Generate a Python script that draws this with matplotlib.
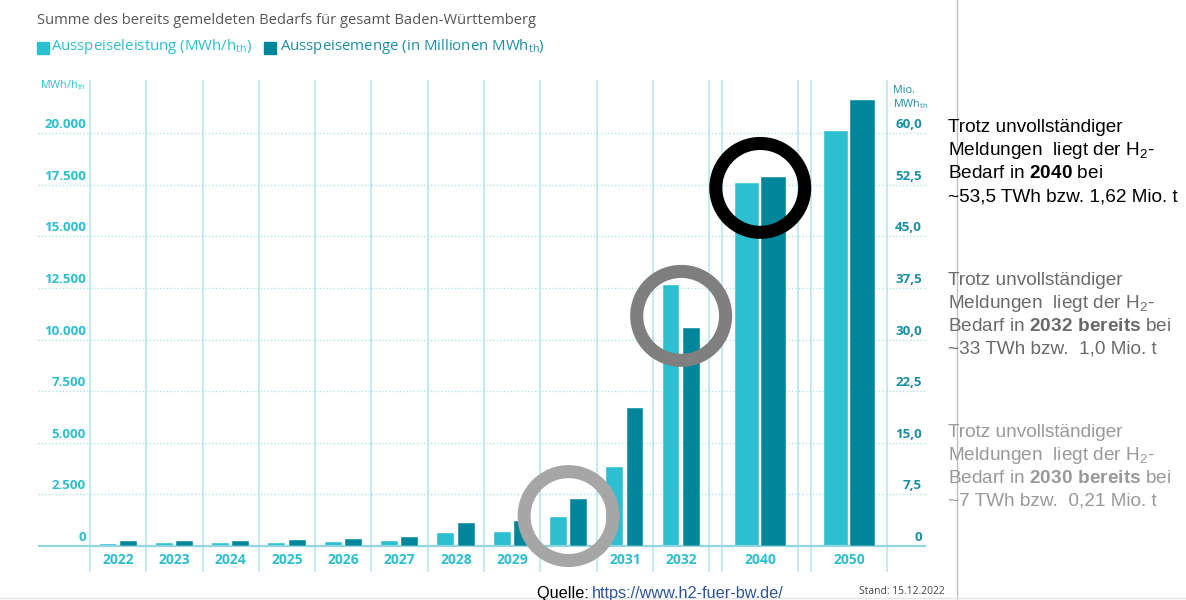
import matplotlib
matplotlib.use("Agg")
import matplotlib.pyplot as plt
from matplotlib.patches import Rectangle
from matplotlib.lines import Line2D
import numpy as np

# data
years = ['2022', '2023', '2024', '2025', '2026', '2027', '2028', '2029',
         '2030', '2031', '2032', '2040', '2050']
leistung = [115, 130, 150, 165, 215, 230, 610, 660, 1400, 3850, 12650, 17580, 20100]   # MWh/h_th
menge = [0.69, 0.74, 0.79, 0.84, 1.09, 1.28, 3.35, 3.65, 6.86, 20.0, 31.7, 53.6, 64.8]  # Mio. MWh_th
left_ticks = [0, 2500, 5000, 7500, 10000, 12500, 15000, 17500, 20000]
left_labels = ['0', '2.500', '5.000', '7.500', '10.000', '12.500', '15.000', '17.500', '20.000']
right_labels = ['0', '7,5', '15,0', '22,5', '30,0', '37,5', '45,0', '52,5', '60,0']
highlight_years = ['2030', '2032', '2040']
highlight_y = [1450, 11150, 17350]
highlight_colors = ['#a6a6a6', '#7f7f7f', '#000000']

LIGHT = '#2bbfd0'
DARK = '#00869b'
GRID = '#b3e5ed'

plt.rcParams['mathtext.default'] = 'regular'
plt.rcParams['mathtext.fontset'] = 'custom'
plt.rcParams['mathtext.bf'] = 'Liberation Sans:bold'

W, H = 1186, 600
fig = plt.figure(figsize=(W / 100, H / 100), dpi=100)


def fx(px):
    return px / W


def fy(py):
    return 1 - py / H


# axis geometry in pixels
zero_px, step_px = 546, 51.6
ax_left, ax_right, ax_top, ax_bot = 38, 926, 80, 575
ax = fig.add_axes([fx(ax_left), fy(ax_bot), fx(ax_right) - fx(ax_left), fy(ax_top) - fy(ax_bot)])
ymin = -(ax_bot - zero_px) / step_px * 2500
ymax = (zero_px - ax_top) / step_px * 2500
ax.set_ylim(ymin, ymax)
ax2 = ax.twinx()
ratio = 60 / 20000
ax2.set_ylim(ymin * ratio, ymax * ratio)

# column layout (unit = one short column)
col_px = 56.3
n_short = 11
wide_w, gap = 1.35, 0.23
centers = list(np.arange(n_short))
edges = list(np.arange(n_short + 1) - 0.5)
x0 = edges[-1]
for i in range(len(years) - n_short):
    a = x0 + gap
    b = a + wide_w
    edges += [a, b]
    centers.append((a + b) / 2)
    x0 = b
ax.set_xlim(-0.5 - (90 - ax_left) / col_px, -0.5 + (ax_right - 90) / col_px)
ax2.set_xlim(ax.get_xlim())

widths = np.array([0.30 if i < n_short else 0.43 for i in range(len(years))])
offs = np.array([0.18 if i < n_short else 0.235 for i in range(len(years))])
centers = np.array(centers)

# grid
bottom_line = -(572 - zero_px) / step_px * 2500
ax.vlines(edges, bottom_line, ymax, color=GRID, lw=1.1, zorder=1)
for t in left_ticks[1:]:
    ax.axhline(t, color='#b0e2ea', lw=1.0, ls=(0, (1, 1.5)), zorder=1)
ax.axhline(0, color='#8fd6e2', lw=1.6, zorder=4)

# bars
ax.bar(centers - offs, leistung, width=widths, color=LIGHT, edgecolor='white', lw=0.3, zorder=3)
ax2.bar(centers + offs, menge, width=widths, color=DARK, edgecolor='white', lw=0.3, zorder=3)

# tick labels
for t, lab in zip(left_ticks, left_labels):
    ax.annotate(lab, xy=((86 - ax_left) / (ax_right - ax_left), t),
                xycoords=('axes fraction', 'data'), xytext=(0, 2), textcoords='offset pixels',
                ha='right', va='bottom', color=LIGHT, fontsize=9.6, fontweight='bold',
                family='Open Sans')
for t, lab in zip(left_ticks, right_labels):
    ax.annotate(lab, xy=((922 - ax_left) / (ax_right - ax_left), t),
                xycoords=('axes fraction', 'data'), xytext=(0, 2), textcoords='offset pixels',
                ha='right', va='bottom', color='#1a8ea4', fontsize=9.6, fontweight='bold',
                family='Open Sans')
for c, y in zip(centers, years):
    ax.annotate(y, xy=(c, 0), xycoords='data', xytext=(0, -14), textcoords='offset pixels',
                ha='center', va='center', color=LIGHT, fontsize=10, fontweight='bold',
                family='Open Sans')

# highlight rings
for yr, yv, col in zip(highlight_years, highlight_y, highlight_colors):
    c = centers[years.index(yr)]
    ax2.scatter([c], [yv * ratio], s=64 ** 2, facecolors='none', edgecolors=col,
                linewidths=9.4, zorder=10, clip_on=False)

ax.set_axis_off()
ax2.set_axis_off()

# title and legend
fig.text(fx(37), fy(20), 'Summe des bereits gemeldeten Bedarfs für gesamt Baden-Württemberg',
         ha='left', va='center', fontsize=10.6, color='#555555', family='Open Sans')
fig.add_artist(Rectangle((fx(37), fy(54)), fx(12), 12 / H, color=LIGHT, transform=fig.transFigure))
fig.text(fx(51), fy(47), 'Ausspeiseleistung (MWh/h$_{th}$)', ha='left', va='center',
         fontsize=10.8, color=LIGHT, family='Open Sans')
fig.add_artist(Rectangle((fx(264), fy(54)), fx(12), 12 / H, color=DARK, transform=fig.transFigure))
fig.text(fx(280), fy(47), 'Ausspeisemenge (in Millionen MWh$_{th}$)', ha='left', va='center',
         fontsize=10.8, color='#1a8ea4', family='Open Sans')

# unit labels
fig.text(fx(40), fy(85), 'MWh/h$_{th}$', ha='left', va='center', fontsize=7.8, color=LIGHT,
         family='Open Sans')
fig.text(fx(893), fy(91), 'Mio.', ha='left', va='center', fontsize=7.8, color='#1a8ea4',
         family='Open Sans')
fig.text(fx(893), fy(104), 'MWh$_{th}$', ha='left', va='center', fontsize=7.8, color='#1a8ea4',
         family='Open Sans')

# source + date
fig.text(fx(537), fy(598), 'Quelle: ', ha='left', va='baseline', fontsize=11.7,
         color='black', family='Liberation Sans')
fig.text(fx(592), fy(598), 'https://www.h2-fuer-bw.de/', ha='left', va='baseline', fontsize=11.7,
         color='#2f5597', family='Liberation Sans')
fig.text(fx(945), fy(591), 'Stand: 15.12.2022', ha='right', va='center', fontsize=7.4,
         color='#444444', family='Open Sans')

# divider lines
fig.add_artist(Line2D([fx(957), fx(957)], [0, 1], color='#c0c0c0', lw=1, transform=fig.transFigure))
fig.add_artist(Line2D([0, 1], [fy(598), fy(598)], color='#e6e6e6', lw=1, transform=fig.transFigure))

# side notes
notes = [
    (['Trotz unvollständiger', 'Meldungen  liegt der H$_2$-',
      r'Bedarf in $\mathbf{2040}$ bei', '~53,5 TWh bzw. 1,62 Mio. t'], '#000000', 132),
    (['Trotz unvollständiger', 'Meldungen  liegt der H$_2$-',
      r'Bedarf in $\mathbf{2032\ bereits}$ bei', '~33 TWh bzw.  1,0 Mio. t'], '#6a6a6a', 285),
    (['Trotz unvollständiger', 'Meldungen  liegt der H$_2$-',
      r'Bedarf in $\mathbf{2030\ bereits}$ bei', '~7 TWh bzw.  0,21 Mio. t'], '#999999', 437),
]
for lines, col, base in notes:
    for k, line in enumerate(lines):
        fig.text(fx(948), fy(base + 23 * k), line, ha='left', va='baseline',
                 fontsize=13.7, color=col, family='Liberation Sans')

fig.savefig('out.png', dpi=100)
